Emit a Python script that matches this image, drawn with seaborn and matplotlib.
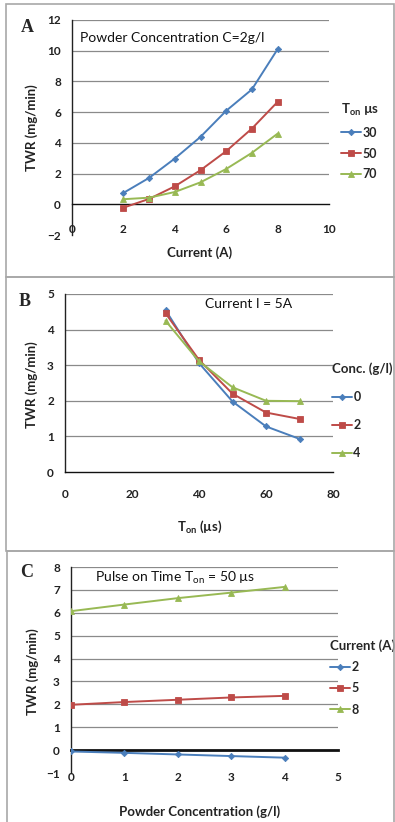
import pandas as pd
import numpy as np
import matplotlib
matplotlib.use("Agg")
import matplotlib.pyplot as plt
import seaborn as sns
from matplotlib.patches import Rectangle

# ---- data ----
# Panel A: TWR vs current, C = 2 g/l
current_a = [2, 3, 4, 5, 6, 7, 8]
twr_ton30 = [0.74, 1.72, 2.98, 4.39, 6.09, 7.48, 10.1]
twr_ton50 = [-0.22, 0.35, 1.17, 2.22, 3.46, 4.93, 6.67]
twr_ton70 = [0.33, 0.43, 0.80, 1.43, 2.30, 3.35, 4.60]
ton_labels = ["30", "50", "70"]

# Panel B: TWR vs Ton, I = 5 A
ton_b = [30, 40, 50, 60, 70]
twr_conc0 = [4.55, 3.06, 1.98, 1.28, 0.93]
twr_conc2 = [4.46, 3.15, 2.20, 1.67, 1.49]
twr_conc4 = [4.25, 3.11, 2.38, 2.00, 1.99]
conc_labels = ["0", "2", "4"]

# Panel C: TWR vs powder concentration, Ton = 50 us
conc_c = [0, 1, 2, 3, 4]
twr_cur2 = [-0.06, -0.12, -0.19, -0.26, -0.33]
twr_cur5 = [1.98, 2.10, 2.20, 2.30, 2.37]
twr_cur8 = [6.07, 6.36, 6.64, 6.88, 7.13]
cur_labels = ["2", "5", "8"]

colors = ["#4a7ebb", "#be4b48", "#98b954"]
markers = ["D", "s", "^"]
msizes = [3.2, 5.0, 5.0]

sns.set_style("white")
plt.rcParams["font.family"] = ["Lato", "DejaVu Sans"]
plt.rcParams["mathtext.fontset"] = "custom"
plt.rcParams["mathtext.rm"] = "Lato"

W, H = 395, 822
fig = plt.figure(figsize=(W / 100, H / 100), dpi=100)


def box(l, t, r, b):
    return [l / W, 1 - b / H, (r - l) / W, (b - t) / H]


def long_df(x, ys, labels, xname):
    frames = [pd.DataFrame({xname: x, "TWR": y, "grp": lab}) for y, lab in zip(ys, labels)]
    return pd.concat(frames, ignore_index=True)


def draw(ax, df, xname, labels, xlim, ylim, xticks, yticks, zero_lw, xpad):
    for g, lab in enumerate(labels):
        sub = df[df["grp"] == lab]
        sns.lineplot(data=sub, x=xname, y="TWR", ax=ax, color=colors[g],
                     marker=markers[g], markersize=msizes[g], markeredgewidth=0.6,
                     markeredgecolor=colors[g], lw=1.4, label=lab, legend=False,
                     zorder=3)
    ax.set_xlim(*xlim)
    ax.set_ylim(*ylim)
    ax.set_xticks(xticks)
    ax.set_yticks(yticks)
    for t in yticks:
        if t > 0:
            ax.axhline(t, color="#8a8a8a", lw=0.9, zorder=1)
    for s in ["top", "right"]:
        ax.spines[s].set_visible(False)
    ax.spines["bottom"].set_position(("data", 0))
    ax.spines["bottom"].set_color("#111111")
    ax.spines["bottom"].set_linewidth(zero_lw)
    ax.spines["left"].set_color("#222222")
    ax.spines["left"].set_linewidth(1.0)
    ax.tick_params(axis="both", direction="out", length=4, width=0.9,
                   labelsize=8.5, colors="#222222")
    ax.tick_params(axis="x", pad=xpad)
    ax.tick_params(axis="y", pad=4)
    for lab in ax.get_xticklabels() + ax.get_yticklabels():
        lab.set_fontweight("bold")
    ax.set_xlabel("")
    ax.set_ylabel("")


axA = fig.add_axes(box(72, 20, 329, 235))
axB = fig.add_axes(box(65, 294, 333, 472))
axC = fig.add_axes(box(71, 567, 338, 773))

dfA = long_df(current_a, [twr_ton30, twr_ton50, twr_ton70], ton_labels, "Current")
dfB = long_df(ton_b, [twr_conc0, twr_conc2, twr_conc4], conc_labels, "Ton")
dfC = long_df(conc_c, [twr_cur2, twr_cur5, twr_cur8], cur_labels, "Conc")

draw(axA, dfA, "Current", ton_labels, (0, 10), (-2, 12), range(0, 11, 2), range(-2, 13, 2), 1.0, 10)
draw(axB, dfB, "Ton", conc_labels, (0, 80), (0, 5), range(0, 81, 20), range(0, 6), 1.0, 8)
draw(axC, dfC, "Conc", cur_labels, (0, 5), (-1, 8), range(0, 6), range(-1, 9), 2.0, 12)

lab_kw = dict(fontsize=9.5, fontweight="bold", color="#222222")
fig.text(32 / W, 1 - 128 / H, "TWR (mg/min)", rotation=90, ha="center", va="center", **lab_kw)
fig.text(32 / W, 1 - 385 / H, "TWR (mg/min)", rotation=90, ha="center", va="center", **lab_kw)
fig.text(33 / W, 1 - 672 / H, "TWR (mg/min)", rotation=90, ha="center", va="center", **lab_kw)
fig.text(200 / W, 1 - 253 / H, "Current (A)", ha="center", va="center", **lab_kw)
fig.text(200 / W, 1 - 527 / H, r"T$_{\mathregular{on}}$ (µs)", ha="center", va="center", **lab_kw)
fig.text(200 / W, 1 - 812 / H, "Powder Concentration (g/l)", ha="center", va="center", **lab_kw)

note_kw = dict(fontsize=10, color="#111111")
fig.text(80 / W, 1 - 38 / H, "Powder Concentration C=2g/l", ha="left", va="center", **note_kw)
fig.text(205 / W, 1 - 304 / H, "Current I = 5A", ha="left", va="center", **note_kw)
fig.text(95 / W, 1 - 578 / H, r"Pulse on Time T$_{\mathregular{on}}$ = 50 µs", ha="left", va="center", **note_kw)

let_kw = dict(fontsize=13, fontweight="bold", family="Liberation Serif", ha="center", va="center")
fig.text(27 / W, 1 - 28 / H, "A", **let_kw)
fig.text(25 / W, 1 - 302 / H, "B", **let_kw)
fig.text(27 / W, 1 - 572 / H, "C", **let_kw)


def legend(ax, title, x, y, spacing):
    lg = ax.legend(title=title, loc="upper left", bbox_to_anchor=(x / W, 1 - y / H),
                   bbox_transform=fig.transFigure, frameon=False, fontsize=9,
                   title_fontsize=9.5, handlelength=1.6, handletextpad=0.1,
                   labelspacing=spacing, borderaxespad=0, borderpad=0)
    lg._legend_box.align = "left"
    lg.get_title().set_fontweight("bold")
    for t in lg.get_texts():
        t.set_fontweight("bold")
    return lg


legend(axA, r"T$_{\mathregular{on}}$ µs", 341, 102, 0.7)
legend(axB, "Conc. (g/l)", 332, 362, 1.3)
legend(axC, "Current (A)", 330, 639, 0.75)

for (l, t, r, b) in [(6, 4, 394, 277), (6, 277, 394, 551), (7, 551, 394, 830)]:
    fig.patches.append(Rectangle((l / W, 1 - b / H), (r - l) / W, (b - t) / H,
                                 transform=fig.transFigure, fill=False,
                                 ec="#a8a8a8", lw=1.2))

fig.savefig("out.png", dpi=100)
